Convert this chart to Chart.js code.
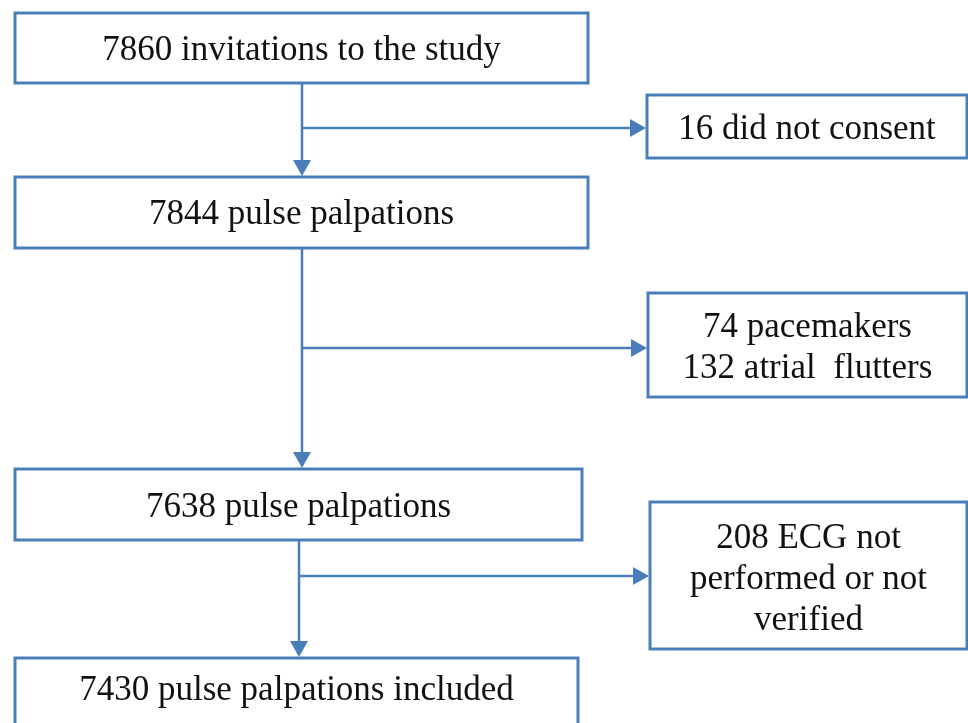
<!DOCTYPE html>
<html>
<head>
<meta charset="utf-8">
<script src="https://cdn.jsdelivr.net/npm/chart.js@4/dist/chart.umd.min.js"></script>
<style>
  html, body { margin: 0; padding: 0; background: #fff; }
  #wrap { width: 968px; height: 723px; }
</style>
</head>
<body>
<div id="wrap"><canvas id="flow" width="968" height="723"></canvas></div>
<script>
// counts
var invited = 7860;
var noConsent = 16;
var palpations1 = 7844;
var pacemakers = 74;
var flutters = 132;
var palpations2 = 7638;
var noEcg = 208;
var included = 7430;

// text of each box (main column first, then the side boxes)
var mainLabels = [
  [invited + ' invitations to the study'],
  [palpations1 + ' pulse palpations'],
  [palpations2 + ' pulse palpations'],
  [included + ' pulse palpations included']
];
var sideLabels = [
  [noConsent + ' did not consent'],
  [pacemakers + ' pacemakers', flutters + ' atrial  flutters'],
  [noEcg + ' ECG not', 'performed or not', 'verified']
];

// geometry, in the axis units (0..968 by 0..723, y down)
var mainBoxes = [
  { x0: 15, x1: 588, y0: 13, y1: 83, cy: 48 },
  { x0: 15, x1: 588, y0: 177, y1: 248, cy: 212 },
  { x0: 15, x1: 582, y0: 469, y1: 540, cy: 505 },
  { x0: 15, x1: 578, y0: 658, y1: 760, cy: 688 }
];
var sideBoxes = [
  { x0: 647, x1: 967, y0: 95, y1: 158, cy: 127 },
  { x0: 648, x1: 967, y0: 293, y1: 397, cy: 345 },
  { x0: 650, x1: 967, y0: 502, y1: 649, cy: 577 }
];
var stemX = [302, 302, 299];
var branchY = [128, 348, 576];

var blue = '#4a7ebb';
var lineH = 41;

var datasets = [];
for (var i = 0; i < 3; i++) {
  datasets.push({
    data: [{ x: stemX[i], y: mainBoxes[i].y1 }, { x: stemX[i], y: mainBoxes[i + 1].y0 - 12 }],
    showLine: true, borderColor: blue, borderWidth: 2.5, pointRadius: 0
  });
  datasets.push({
    data: [{ x: stemX[i], y: branchY[i] }, { x: sideBoxes[i].x0 - 12, y: branchY[i] }],
    showLine: true, borderColor: blue, borderWidth: 2.5, pointRadius: 0
  });
}

var flowPlugin = {
  id: 'flow',
  afterDatasetsDraw: function (chart) {
    var c = chart.ctx;
    var sx = chart.scales.x, sy = chart.scales.y;
    c.save();

    function box(b, lines) {
      var x0 = sx.getPixelForValue(b.x0), x1 = sx.getPixelForValue(b.x1);
      var y0 = sy.getPixelForValue(b.y0), y1 = sy.getPixelForValue(b.y1);
      c.strokeStyle = blue;
      c.lineWidth = 3;
      c.strokeRect(x0, y0, x1 - x0, y1 - y0);
      c.fillStyle = '#111';
      c.font = '35px "Liberation Serif", "Times New Roman", serif';
      c.textAlign = 'center';
      c.textBaseline = 'middle';
      var cx = (x0 + x1) / 2;
      var cy = sy.getPixelForValue(b.cy) + 3;
      var top = cy - (lines.length - 1) * lineH / 2;
      lines.forEach(function (t, k) {
        c.fillText(t, cx, top + k * lineH);
      });
    }

    function arrow(x, y, dir) {
      var px = sx.getPixelForValue(x), py = sy.getPixelForValue(y);
      c.fillStyle = blue;
      c.beginPath();
      if (dir === 'down') {
        c.moveTo(px, py);
        c.lineTo(px - 9, py - 16);
        c.lineTo(px + 9, py - 16);
      } else {
        c.moveTo(px, py);
        c.lineTo(px - 16, py - 9);
        c.lineTo(px - 16, py + 9);
      }
      c.closePath();
      c.fill();
    }

    mainBoxes.forEach(function (b, k) { box(b, mainLabels[k]); });
    sideBoxes.forEach(function (b, k) { box(b, sideLabels[k]); });
    for (var k = 0; k < 3; k++) {
      arrow(stemX[k], mainBoxes[k + 1].y0 - 1, 'down');
      arrow(sideBoxes[k].x0 - 1, branchY[k], 'right');
    }
    c.restore();
  }
};

new Chart(document.getElementById('flow'), {
  type: 'scatter',
  data: { datasets: datasets },
  options: {
    responsive: false,
    animation: false,
    layout: { padding: 0 },
    plugins: { legend: { display: false }, tooltip: { enabled: false } },
    scales: {
      x: { type: 'linear', min: 0, max: 968, display: false },
      y: { type: 'linear', min: 0, max: 723, reverse: true, display: false }
    }
  },
  plugins: [flowPlugin]
});
</script>
</body>
</html>
